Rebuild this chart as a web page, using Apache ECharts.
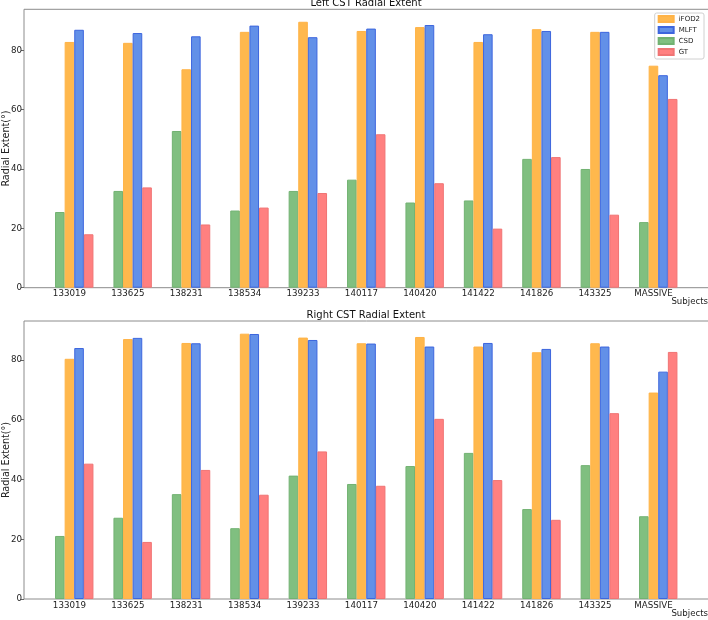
<!DOCTYPE html>
<html>
<head>
<meta charset="utf-8">
<script src="https://cdn.jsdelivr.net/npm/echarts@6/dist/echarts.min.js"></script>
<style>html,body{margin:0;padding:0;background:#fff;}#c{width:708px;height:620px;}</style>
</head>
<body>
<div id="c"></div>
<script>
var categories = ['133019','133625','138231','138534','139233','140117','140420','141422','141826','143325','MASSIVE'];
var leftCSD   = [25.5, 32.6, 52.8, 26.0, 32.6, 36.4, 28.7, 29.4, 43.4, 40.0, 22.1];
var leftIFOD2 = [82.8, 82.5, 73.6, 86.2, 89.6, 86.5, 87.8, 82.8, 87.1, 86.2, 74.8];
var leftMLFT  = [86.9, 85.8, 84.7, 88.3, 84.4, 87.3, 88.5, 85.4, 86.5, 86.2, 71.6];
var leftGT    = [18.0, 33.8, 21.3, 27.0, 31.9, 51.7, 35.2, 19.9, 44.0, 24.6, 63.6];
var rightCSD   = [21.1, 27.2, 35.1, 23.7, 41.3, 38.5, 44.5, 48.9, 30.1, 44.8, 27.7];
var rightIFOD2 = [80.4, 87.0, 85.7, 88.8, 87.5, 85.6, 87.7, 84.5, 82.6, 85.6, 69.1];
var rightMLFT  = [84.0, 87.4, 85.6, 88.7, 86.7, 85.5, 84.5, 85.7, 83.7, 84.5, 76.1];
var rightGT    = [45.3, 19.1, 43.2, 34.9, 49.4, 37.9, 60.3, 39.8, 26.5, 62.2, 82.7];
var yTicks = [0, 20, 40, 60, 80];

var FONT = 'DejaVu Sans';
var styles = {
  'CSD':   {color: '#80BF80', borderColor: '#72B272'},
  'iFOD2': {color: '#FFB84D', borderColor: '#FFB347'},
  'MLFT':  {color: '#6290E8', borderColor: '#3D66DE'},
  'GT':    {color: '#FF8080', borderColor: '#F07474'}
};

var panels = [
  {title: 'Left CST Radial Extent', top: 9.3, height: 278.4, ymax: 93.8, titleTop: -1.5,
   data: {CSD: leftCSD, iFOD2: leftIFOD2, MLFT: leftMLFT, GT: leftGT}},
  {title: 'Right CST Radial Extent', top: 321, height: 278, ymax: 93.05, titleTop: 310.1,
   data: {CSD: rightCSD, iFOD2: rightIFOD2, MLFT: rightMLFT, GT: rightGT}}
];

var grid = [], xAxis = [], yAxis = [], series = [], title = [];
panels.forEach(function (p, k) {
  var fg = k * 2, dg = k * 2 + 1;
  grid.push({left: 24, top: p.top, width: 685, height: p.height, show: true,
             borderColor: '#8c8c8c', borderWidth: 1, backgroundColor: 'transparent',
             containLabel: false, outerBoundsMode: 'none'});
  grid.push({left: 45.05, top: p.top, width: 642.4, height: p.height,
             containLabel: false, outerBoundsMode: 'none'});
  xAxis.push({gridIndex: fg, type: 'value', min: 0, max: 1, axisLine: {show: false},
              axisTick: {show: false}, axisLabel: {show: false}, splitLine: {show: false},
              name: 'Subjects', nameLocation: 'end', nameGap: -1, nameMoveOverlap: false,
              nameTextStyle: {fontFamily: FONT, fontSize: 8.6, color: '#222', align: 'right',
                              verticalAlign: 'top', padding: [10, 0, 0, 0]}});
  xAxis.push({gridIndex: dg, type: 'category', data: categories, boundaryGap: true,
              axisLine: {show: false}, axisTick: {show: false}, splitLine: {show: false},
              axisLabel: {fontFamily: FONT, fontSize: 8.7, color: '#222', margin: 2,
                          padding: [0, 9.6, 0, 0], interval: 0}});
  yAxis.push({gridIndex: fg, type: 'value', min: 0, max: p.ymax, interval: 20,
              axisLine: {show: false}, splitLine: {show: false},
              axisTick: {show: true, length: 3, customValues: yTicks, lineStyle: {color: '#666'}},
              axisLabel: {fontFamily: FONT, fontSize: 8.7, color: '#222', margin: 2,
                          customValues: yTicks},
              name: 'Radial Extent(°)', nameLocation: 'middle', nameGap: 13, nameRotate: 90,
              nameMoveOverlap: false,
              nameTextStyle: {fontFamily: FONT, fontSize: 9.6, color: '#222'}});
  yAxis.push({gridIndex: dg, type: 'value', min: 0, max: p.ymax, show: false, splitLine: {show: false}});
  title.push({text: p.title, left: 366, textAlign: 'center', top: p.titleTop, padding: 0,
              textStyle: {fontFamily: FONT, fontSize: 10, fontWeight: 'normal', color: '#111'}});
  ['CSD', 'iFOD2', 'MLFT', 'GT'].forEach(function (name) {
    series.push({name: name, type: 'bar', xAxisIndex: dg, yAxisIndex: dg,
                 data: p.data[name], barWidth: 9.6, barGap: '0%', silent: true,
                 itemStyle: {color: styles[name].color, borderColor: styles[name].borderColor, borderWidth: 1},
                 animation: false});
  });
});

var chart = echarts.init(document.getElementById('c'), null, {renderer: 'canvas'});
chart.setOption({
  animation: false,
  title: title,
  grid: grid,
  xAxis: xAxis,
  yAxis: yAxis,
  legend: {data: ['iFOD2', 'MLFT', 'CSD', 'GT'], orient: 'vertical', right: 4, top: 13,
           icon: 'rect', itemWidth: 15, itemHeight: 6, itemGap: 3, padding: [2, 4, 3, 3],
           backgroundColor: '#fff', borderColor: '#d0d0d0', borderWidth: 1, borderRadius: 2,
           textStyle: {fontFamily: FONT, fontSize: 7, color: '#222'}, selectedMode: false},
  series: series
});
</script>
</body>
</html>
